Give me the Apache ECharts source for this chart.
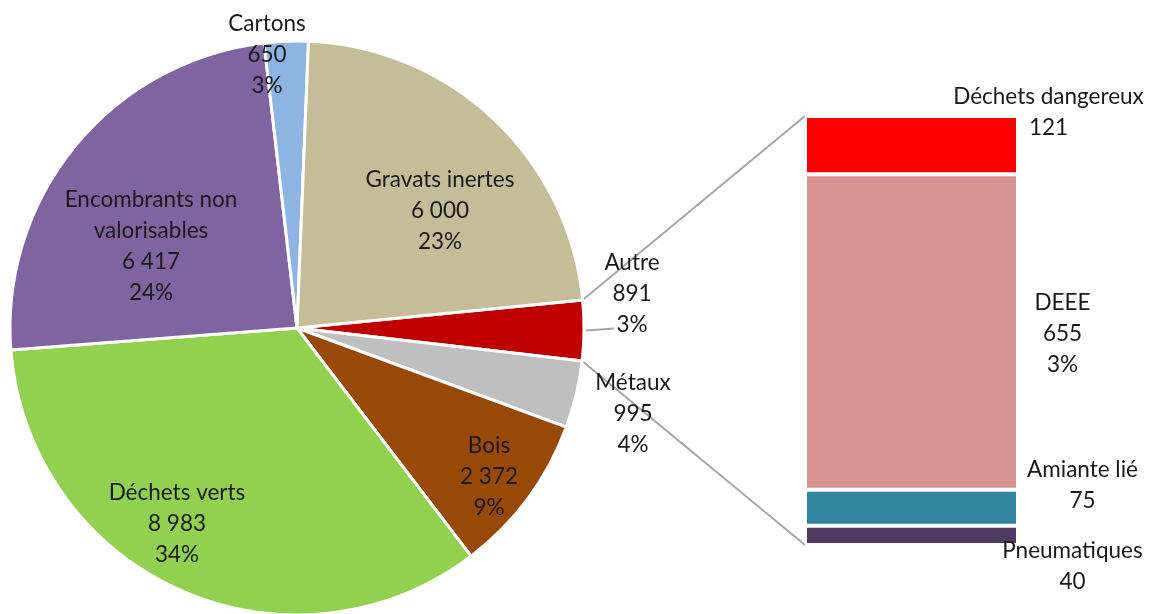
<!DOCTYPE html>
<html><head><meta charset="utf-8">
<script src="https://cdn.jsdelivr.net/npm/echarts@6/dist/echarts.min.js"></script>
<style>html,body{margin:0;padding:0;background:#fff}#c{width:1149px;height:614px}</style>
</head><body><div id="c"></div>
<script>
// ---- data ----
const pieNames = ['Autre', 'Métaux', 'Bois', 'Déchets verts', 'Encombrants non\nvalorisables', 'Cartons', 'Gravats inertes'];
const pieValues = [891, 995, 2372, 8983, 6417, 650, 6000];
const pieLabelValues = ['891', '995', '2 372', '8 983', '6 417', '650', '6 000'];
const piePercents = ['3%', '4%', '9%', '34%', '24%', '3%', '23%'];
const barNames = ['Déchets dangereux', 'DEEE', 'Amiante lié', 'Pneumatiques'];
const barValues = [121, 655, 75, 40];
const barLabelValues = ['121', '655\n3%', '75', '40'];

// ---- styles / layout ----
const pieColors = ['#C00000', '#BFBFBF', '#984807', '#92D050', '#8064A2', '#8DB4E2', '#C4BD97'];
const barColors = ['#FF0000', '#D99594', '#31859C', '#4F3B62'];
const pieLabelPos = [[632, 294], [633, 414], [489, 477], [177, 524], [151, 246], [267, 55], [440, 211]];
const barLabelOffsets = [[137, -33], [151, 2], [171, -22], [161, 31]];
const FONT = 'Lato';
const FS = 22.5;
const center = [297, 328], radius = 287, startAngle = 5.6;
const gridBox = {left: 805, top: 116, width: 213, height: 429};

const chart = echarts.init(document.getElementById('c'));
const total = pieValues.reduce((a, b) => a + b, 0);
const barTotal = barValues.reduce((a, b) => a + b, 0);

const barSeries = barNames.map((n, i) => ({
  type: 'bar', name: n, stack: 's', barWidth: '100%',
  data: [barValues[i]],
  itemStyle: {color: barColors[i], borderColor: '#fff', borderWidth: 2},
  label: {
    show: true, position: 'inside', offset: barLabelOffsets[i],
    formatter: () => n + '\n' + barLabelValues[i],
    color: '#1a1a1a', fontFamily: FONT, fontSize: FS, lineHeight: 31, align: 'center'
  }
}));

chart.setOption({
  animation: false,
  grid: {left: gridBox.left, top: gridBox.top, width: gridBox.width, height: gridBox.height},
  xAxis: {type: 'category', data: ['x'], show: false},
  yAxis: {type: 'value', min: 0, max: barTotal, inverse: true, show: false},
  series: [{
    type: 'pie', center: center, radius: radius, startAngle: startAngle,
    clockwise: true, avoidLabelOverlap: false,
    data: pieNames.map((n, i) => ({name: n, value: pieValues[i], itemStyle: {color: pieColors[i]}})),
    itemStyle: {borderColor: '#fff', borderWidth: 3},
    label: {
      show: true, position: 'inside',
      formatter: p => pieNames[p.dataIndex] + '\n' + pieLabelValues[p.dataIndex] + '\n' + piePercents[p.dataIndex],
      color: '#1a1a1a', fontFamily: FONT, fontSize: FS, lineHeight: 31, align: 'center'
    },
    labelLine: {show: false},
    labelLayout: p => ({x: pieLabelPos[p.dataIndex][0], y: pieLabelPos[p.dataIndex][1], align: 'center', verticalAlign: 'middle'})
  }].concat(barSeries)
});

// connector lines computed from pie geometry and bar axis scale
const a0 = startAngle * Math.PI / 180;
const a1 = (startAngle - pieValues[0] / total * 360) * Math.PI / 180;
const pTop = [center[0] + radius * Math.cos(a0), center[1] - radius * Math.sin(a0)];
const pBot = [center[0] + radius * Math.cos(a1), center[1] - radius * Math.sin(a1)];
const yTop = chart.convertToPixel({yAxisIndex: 0}, 0);
const yBot = chart.convertToPixel({yAxisIndex: 0}, barTotal);
const amid = (a0 + a1) / 2;
const pMid = [center[0] + (radius + 2) * Math.cos(amid), center[1] - (radius + 2) * Math.sin(amid)];
chart.setOption({
  graphic: [
    {type: 'line', shape: {x1: pTop[0], y1: pTop[1], x2: gridBox.left, y2: yTop}, style: {stroke: '#A6A6A6', lineWidth: 2}},
    {type: 'line', shape: {x1: pBot[0], y1: pBot[1], x2: gridBox.left, y2: yBot}, style: {stroke: '#A6A6A6', lineWidth: 2}},
    {type: 'line', shape: {x1: pMid[0], y1: pMid[1], x2: pMid[0] + 28, y2: pMid[1] - 2}, style: {stroke: '#A6A6A6', lineWidth: 2}}
  ]
});
</script></body></html>
